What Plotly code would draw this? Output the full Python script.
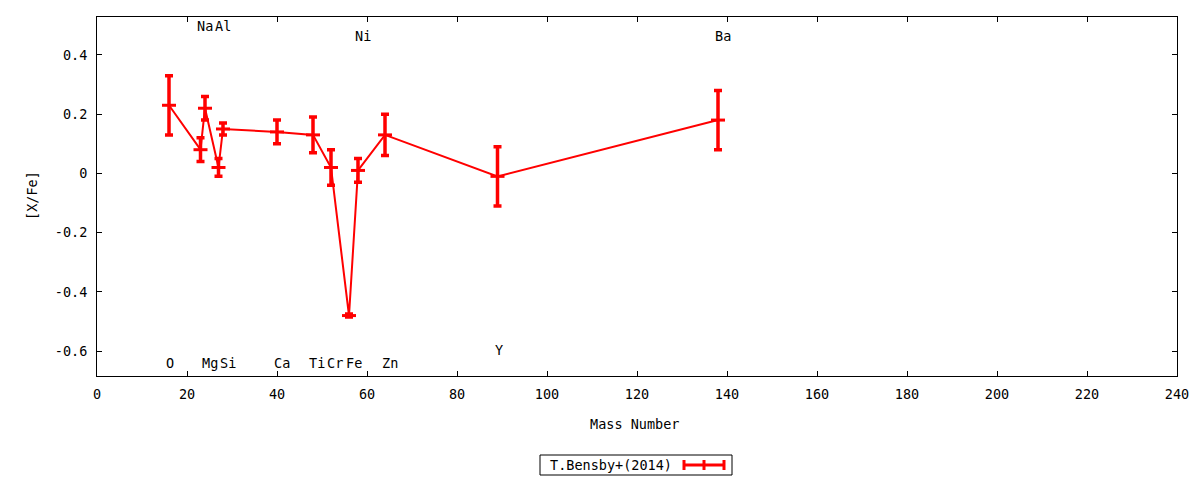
import plotly.graph_objects as go

# Data
elements = ["O", "Na", "Mg", "Al", "Si", "Ca", "Ti", "Cr", "Fe", "Ni", "Zn", "Y", "Ba"]
mass_number = [16, 23, 24, 27, 28, 40, 48, 52, 56, 58, 64, 89, 138]
x_fe = [0.23, 0.08, 0.22, 0.02, 0.15, 0.14, 0.13, 0.02, -0.48, 0.01, 0.13, -0.01, 0.18]
x_fe_err = [0.10, 0.04, 0.04, 0.03, 0.02, 0.04, 0.06, 0.06, 0.005, 0.04, 0.07, 0.10, 0.10]

# Element label placement (data coordinates)
label_x = [16.3, 24.1, 25.2, 28.1, 29.0, 41.1, 48.9, 52.9, 57.0, 59.1, 65.2, 89.4, 139.0]
label_y = [-0.64, 0.497, -0.64, 0.497, -0.64, -0.64, -0.64, -0.64, -0.64, 0.463, -0.64, -0.595, 0.463]

x_ticks = list(range(0, 241, 20))
y_ticks = [-0.6, -0.4, -0.2, 0, 0.2, 0.4]
y_tick_text = ["-0.6", "-0.4", "-0.2", "0", "0.2", "0.4"]

series_name = "T.Bensby+(2014)"

FONT = "DejaVu Sans Mono"
FS = 13.5
RED = "#ff0000"

# page body has an 8px margin; compensate so the drawing lands where the reference is
OFF = 8
W, H = 1200 - OFF, 480 - OFF
L, R, T, B = 97 - OFF, 23, 17 - OFF, 104
pw = W - L - R
ph = H - T - B


def px(xp):
    return (xp - OFF - L) / pw


def py(yp):
    return (H - B - (yp - OFF)) / ph


fig = go.Figure()
fig.add_trace(go.Scatter(
    x=mass_number, y=x_fe,
    mode="lines+markers",
    line=dict(color=RED, width=2),
    marker=dict(symbol="line-ew", size=10, line=dict(color=RED, width=3), color=RED),
    error_y=dict(type="data", array=x_fe_err, visible=True, color=RED, thickness=3.5, width=4),
    name=series_name,
    showlegend=False,
    cliponaxis=False,
))

for el, lx, ly in zip(elements, label_x, label_y):
    fig.add_annotation(x=lx, y=ly, text=el, showarrow=False, xref="x", yref="y",
                       xanchor="center", yanchor="middle",
                       font=dict(family=FONT, size=FS, color="black"))

# Axis titles
fig.add_annotation(x=px(634), y=py(424), xref="paper", yref="paper", text="Mass Number",
                   xanchor="center", yanchor="middle",
                   showarrow=False, font=dict(family=FONT, size=FS, color="black"))
fig.add_annotation(x=px(32), y=py(196), xref="paper", yref="paper", text="[X/Fe]",
                   xanchor="center", yanchor="middle",
                   textangle=-90, showarrow=False, font=dict(family=FONT, size=FS, color="black"))

# Legend (gnuplot style: text then sample)
fig.add_shape(type="rect", xref="paper", yref="paper", x0=px(540), x1=px(732), y0=py(475), y1=py(455),
              line=dict(color="black", width=1))
fig.add_annotation(x=px(674), y=py(465), xref="paper", yref="paper", text=series_name,
                   xanchor="right", yanchor="middle",
                   showarrow=False, font=dict(family=FONT, size=FS, color="black"))
fig.add_shape(type="line", xref="paper", yref="paper", x0=px(684), x1=px(724), y0=py(465), y1=py(465),
              line=dict(color=RED, width=3))
for xp in (684, 704, 724):
    fig.add_shape(type="line", xref="paper", yref="paper", x0=px(xp), x1=px(xp), y0=py(460), y1=py(470),
                  line=dict(color=RED, width=3))

axis_common = dict(
    showline=True, linecolor="black", linewidth=1, mirror="allticks",
    ticks="inside", ticklen=5, tickcolor="black", showgrid=False, zeroline=False,
    tickfont=dict(family=FONT, size=FS, color="black"),
)

fig.update_layout(
    width=W, height=H,
    margin=dict(l=L, r=R, t=T, b=B),
    paper_bgcolor="white", plot_bgcolor="white",
    xaxis=dict(range=[0, 240], tickvals=x_ticks, ticklabelstandoff=6, **axis_common),
    yaxis=dict(range=[-0.684, 0.528], tickvals=y_ticks, ticktext=y_tick_text,
               ticklabelstandoff=6, **axis_common),
)

fig.write_html("out.html")
